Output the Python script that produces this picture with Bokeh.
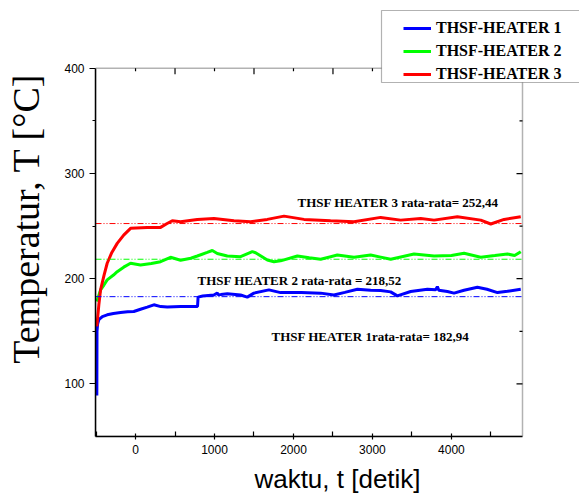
from bokeh.plotting import figure
from bokeh.models import (Label, Range1d, FixedTicker, BoxAnnotation,
                          Legend, LegendItem)
from bokeh.embed import file_html
from bokeh.resources import INLINE

# ---------------- data ----------------
series_names = ["THSF-HEATER 1", "THSF-HEATER 2", "THSF-HEATER 3"]
series_colors = ["#0000FF", "#00FF00", "#FF0000"]

time_h1 = [-490, -488, -480, -465, -420, -359, -280, -190, -100, -22, 63, 148, 232,
           320, 402, 570, 700, 785, 792, 850, 992, 1035, 1045, 1080, 1162, 1330, 1415,
           1499, 1689, 1837, 1964, 2100, 2344, 2512, 2650, 2809, 2977, 3104, 3230,
           3315, 3484, 3696, 3800, 3822, 3840, 3949, 4033, 4160, 4329, 4450, 4583,
           4709, 4878]
temp_h1 = [89, 150, 157, 161, 164, 165.7, 167, 167.9, 168.5, 168.8, 171, 173, 175.2,
           173.5, 173, 173.6, 173.5, 173.6, 182.5, 183.5, 184.6, 186.5, 184.8, 185, 185.6,
           184.5, 182.5, 186.3, 189.4, 186.8, 186.8, 187, 186.3, 184.6, 187, 190, 189,
           188.7, 187.5, 183.7, 187.8, 190, 189.5, 192.5, 189, 187.8, 186.3, 189, 191.9,
           190, 186.8, 188, 190]

time_h2 = [-490, -443, -400, -359, -279, -232, -150, -63, 63, 200, 317, 443, 570, 700,
           782, 908, 972, 1035, 1162, 1330, 1479, 1520, 1669, 1753, 1837, 2049, 2200,
           2344, 2555, 2766, 2977, 3104, 3231, 3526, 3780, 4000, 4160, 4371, 4550, 4709,
           4800, 4878]
temp_h2 = [178.3, 189.4, 194, 198.9, 203.5, 206.7, 211, 214.7, 213.1, 214.5, 216.2,
           220.4, 217.6, 219.5, 221.6, 225, 226.8, 224, 221.6, 221, 225.7, 224.7, 217.8,
           216.2, 217, 221.6, 220, 218.5, 222.5, 220.4, 222.5, 220.5, 218.5, 223.5, 221.6,
           222, 224.2, 220.4, 222, 223.5, 222, 225.7]

time_h3 = [-490, -465, -443, -400, -359, -300, -232, -150, -63, 148, 317, 400, 465,
           570, 782, 993, 1246, 1457, 1668, 1880, 2133, 2470, 2766, 3104, 3357, 3611,
           3780, 4075, 4371, 4498, 4667, 4878]
temp_h3 = [154.6, 175, 189.4, 203, 214.7, 225, 233.6, 241.5, 247.9, 248.8, 248.8,
           252.5, 255.1, 254.1, 256.4, 257.3, 255.1, 254.1, 256.4, 259.5, 256.4, 255.1,
           254.1, 258.3, 255.7, 257.3, 255.7, 258.9, 255.7, 252, 256.4, 258.9]

mean_values = [182.94, 218.52, 252.44]
mean_labels = ["THSF HEATER 1rata-rata= 182,94",
               "THSF HEATER 2 rata-rata = 218,52",
               "THSF HEATER 3 rata-rata= 252,44"]

x_ticks = [0, 1000, 2000, 3000, 4000]
x_minor = [-500, 500, 1500, 2500, 3500, 4500]
y_ticks = [100, 200, 300, 400]
y_minor = [150, 250, 350]
x_limits = (-507, 4900)
y_limits = (50, 400)

x_title = "waktu, t [detik]"
y_title = "Temperatur, T [°C]"

# ---------------- layout (pixels) ----------------
W, H = 579, 496
BOX_L, BOX_R, BOX_T, BOX_B = 95, 522, 68, 437   # visible axes box

# the frame covers the whole area right of / above the axes so that the legend,
# which sits partly outside the axes box, is not clipped
sx = (BOX_R - BOX_L) / (x_limits[1] - x_limits[0])
sy = (BOX_B - BOX_T) / (y_limits[1] - y_limits[0])
x_end = x_limits[1] + (W - BOX_R) / sx
y_end = y_limits[1] + BOX_T / sy

p = figure(width=W, height=H, output_backend="svg", toolbar_location=None,
           x_range=Range1d(x_limits[0], x_end), y_range=Range1d(y_limits[0], y_end),
           min_border_left=BOX_L, min_border_right=0, min_border_top=0,
           min_border_bottom=H - BOX_B, background_fill_color="white",
           border_fill_color="white")
p.grid.visible = False
p.outline_line_color = None

# axes box (top and right edges of the axes)
p.add_layout(BoxAnnotation(left=x_limits[0], right=x_limits[1], bottom=y_limits[0],
                           top=y_limits[1], fill_alpha=0, line_color="black",
                           line_width=1.5))

renderers = []
for t, v, col in zip([time_h1, time_h2, time_h3], [temp_h1, temp_h2, temp_h3],
                     series_colors):
    renderers.append(p.line(t, v, line_color=col, line_width=3))

# average lines, limited to the axes box
p.segment(x0=[x_limits[0]] * len(mean_values), y0=mean_values,
          x1=[x_limits[1]] * len(mean_values), y1=mean_values,
          line_color=series_colors, line_width=1, line_dash="6 2 1 2 1 2")

# inward ticks on the right and top edges
def edge_ticks_right(vals, length):
    p.segment(x0=[x_limits[1]] * len(vals), y0=vals,
              x1=[x_limits[1] - length / sx] * len(vals), y1=vals,
              line_color="black", line_width=1.2)

def edge_ticks_top(vals, length):
    p.segment(x0=vals, y0=[y_limits[1]] * len(vals),
              x1=vals, y1=[y_limits[1] - length / sy] * len(vals),
              line_color="black", line_width=1.2)

edge_ticks_right(y_ticks, 6)
edge_ticks_right(y_minor, 3)
edge_ticks_top(x_ticks, 3)
edge_ticks_top(x_minor[1:], 6)

# axes
ax = p.xaxis[0]
ax.bounds = x_limits
ax.ticker = FixedTicker(ticks=x_ticks, minor_ticks=x_minor)
ax.major_tick_in = 3
ax.major_tick_out = 3
ax.minor_tick_in = 5
ax.minor_tick_out = 0
ax.axis_line_width = 1.5
ax.major_tick_line_width = 1.2
ax.minor_tick_line_width = 1.2
ax.major_label_standoff = 5
ax.major_label_text_font = "Liberation Sans"
ax.major_label_text_font_size = "12px"
ax.major_label_text_color = "black"
ax.axis_label = x_title
ax.axis_label_text_font = "Liberation Sans"
ax.axis_label_text_font_size = "26px"
ax.axis_label_text_font_style = "normal"
ax.axis_label_text_color = "black"
ax.axis_label_standoff = 7

ay = p.yaxis[0]
ay.bounds = y_limits
ay.ticker = FixedTicker(ticks=y_ticks, minor_ticks=y_minor)
ay.major_tick_in = 0
ay.major_tick_out = 6
ay.minor_tick_in = 0
ay.minor_tick_out = 3
ay.axis_line_width = 1.5
ay.major_tick_line_width = 1.2
ay.minor_tick_line_width = 1.2
ay.major_label_standoff = 5
ay.major_label_text_font = "Liberation Sans"
ay.major_label_text_font_size = "12px"
ay.major_label_text_color = "black"
ay.axis_label = y_title
ay.axis_label_text_font = "Liberation Serif"
ay.axis_label_text_font_size = "38px"
ay.axis_label_text_font_style = "normal"
ay.axis_label_text_color = "black"
ay.axis_label_standoff = 14

# mean annotations
ann_pos = [(271, 337), (197, 281), (297, 202.5)]
for txt, (px, py) in zip(mean_labels, ann_pos):
    p.add_layout(Label(x=px - BOX_L, y=BOX_B - py, x_units="screen", y_units="screen",
                       text=txt, text_font="Liberation Serif", text_font_style="bold",
                       text_font_size="13px", text_color="black",
                       text_align="left", text_baseline="alphabetic"))

# legend box (white, covers the top edge of the axes box)
p.add_layout(BoxAnnotation(left=381 - BOX_L, right=W + 20 - BOX_L, top=BOX_B - 11,
                           bottom=BOX_B - 83, left_units="screen", right_units="screen",
                           top_units="screen", bottom_units="screen",
                           fill_color="white", fill_alpha=1, line_color="black",
                           line_width=1.2))

legend = Legend(items=[LegendItem(label=n, renderers=[r])
                       for n, r in zip(series_names, renderers)],
                location=(403 - 8 - BOX_L, BOX_B - 93),
                border_line_alpha=0, background_fill_alpha=0,
                label_text_font="Liberation Serif", label_text_font_style="bold",
                label_text_font_size="16px", label_text_color="black",
                glyph_width=28, glyph_height=20, label_height=20,
                spacing=3, padding=8, margin=0, label_standoff=5)
p.add_layout(legend)

open("out.html", "w").write(file_html(p, INLINE))
